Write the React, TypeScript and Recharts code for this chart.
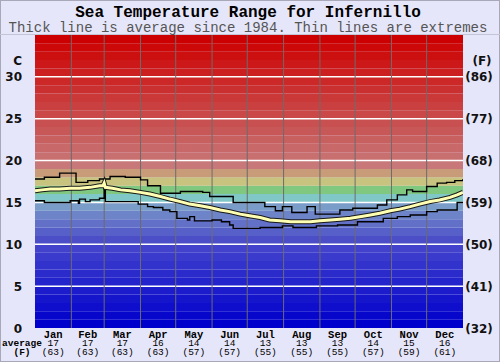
import React from 'react';
import { LineChart, Line, XAxis, YAxis, ReferenceArea, ReferenceLine } from 'recharts';

const months = ['Jan', 'Feb', 'Mar', 'Apr', 'May', 'Jun', 'Jul', 'Aug', 'Sep', 'Oct', 'Nov', 'Dec'];
const monthAvgC = [17, 17, 17, 16, 14, 14, 13, 13, 13, 14, 15, 16];
const monthAvgF = [63, 63, 63, 63, 57, 57, 55, 55, 55, 57, 59, 61];
const monthStartDays = [0, 31, 59, 90, 120, 151, 181, 212, 243, 273, 304, 334, 365];
const monthBoundaryDays = monthStartDays.slice(1, 12);
const monthMidDays = months.map((_, i) => (monthStartDays[i] + monthStartDays[i + 1]) / 2);

const yTicksC = [0, 5, 10, 15, 20, 25, 30];
const gridLinesC = [5, 10, 15, 20, 25, 30];

// average (thick line)
const avgDays = [0, 6, 13, 21, 30, 38, 47, 55, 58, 59, 60, 66, 73, 81, 90, 98, 107, 115, 124, 132, 141, 149, 158, 166, 175, 183, 192, 200, 209, 218, 226, 235, 243, 252, 260, 269, 277, 286, 294, 303, 311, 320, 328, 337, 345, 354, 360, 365];
const avgTemps = [16.4, 16.5, 16.6, 16.6, 16.7, 16.7, 16.8, 17.0, 17.0, 17.3, 16.8, 16.7, 16.5, 16.4, 16.2, 16.0, 15.7, 15.4, 15.1, 14.8, 14.6, 14.4, 14.1, 13.9, 13.6, 13.4, 13.2, 12.9, 12.8, 12.7, 12.7, 12.7, 12.8, 12.9, 13.0, 13.1, 13.3, 13.5, 13.7, 14.0, 14.2, 14.5, 14.8, 15.1, 15.3, 15.6, 15.9, 16.2];

// extremes (thin step lines)
const maxDays = [0, 8, 21, 35, 45, 55, 64, 77, 90, 96, 107, 124, 143, 149, 169, 196, 205, 211, 219, 232, 239, 260, 271, 292, 300, 309, 317, 322, 334, 343, 351, 358, 365];
const maxTemps = [17.8, 18.0, 18.5, 17.4, 17.6, 17.8, 18.1, 18.0, 17.7, 17.0, 16.1, 16.3, 16.2, 15.7, 15.0, 14.5, 14.0, 14.5, 13.8, 14.5, 13.6, 14.1, 14.3, 14.7, 15.3, 15.9, 16.5, 16.3, 16.9, 17.3, 17.4, 17.6, 17.8];
const minDays = [0, 8, 30, 37, 38, 43, 47, 55, 59, 60, 88, 96, 101, 109, 115, 121, 130, 132, 136, 151, 159, 166, 169, 192, 211, 220, 240, 258, 275, 297, 309, 320, 334, 343, 360, 365];
const minTemps = [15.2, 15.0, 15.2, 14.9, 15.4, 15.1, 15.3, 15.5, 17.2, 15.1, 14.8, 14.5, 14.4, 14.1, 13.9, 13.1, 12.9, 13.3, 12.8, 12.9, 12.7, 12.3, 11.9, 12.0, 12.2, 12.0, 12.2, 12.3, 12.7, 13.1, 13.3, 13.5, 13.9, 14.1, 15.0, 15.0];

// background colour bands, one per degree from 0 upwards
const bandColors = [
  '#0000cc', '#0707cc', '#0e0ecc', '#1515cc', '#1c1ccc', '#2424cc', '#2b2bcc', '#3232cc', '#3a3acc', '#4242cc',
  '#4c4ec8', '#5660c8', '#6270c8', '#6e84c8', '#7a9cc8', '#80c8c8', '#80c880', '#c8c480', '#c89c78', '#c87878',
  '#c87070', '#c86868', '#c86060', '#c85858', '#c85050', '#ca4848', '#ca4040', '#cb3838', '#cb3030', '#cc2828',
  '#cc2020', '#cc1818', '#cc1010', '#cc0808', '#cc0000',
];

const avgData = avgDays.map((d, i) => ({ day: d, t: avgTemps[i] }));
const maxData = maxDays.map((d, i) => ({ day: d, t: maxTemps[i] }));
const minData = minDays.map((d, i) => ({ day: d, t: minTemps[i] }));

const toF = (c: number) => Math.round((c * 9) / 5 + 32);

const LeftTick = (props: any) => {
  const { y, payload } = props;
  return (
    <text x={22} y={y} dy={4.5} textAnchor="end" fontFamily="DejaVu Sans" fontWeight="bold" fontSize={12} fill="#111">
      {payload.value}
    </text>
  );
};

const RightTick = (props: any) => {
  const { y, payload } = props;
  return (
    <text x={479} y={y} dy={4.5} textAnchor="middle" fontFamily="DejaVu Sans" fontWeight="bold" fontSize={12} fill="#111">
      ({toF(payload.value)})
    </text>
  );
};

const MonthTick = (props: any) => {
  const { x, payload } = props;
  const i = monthMidDays.indexOf(payload.value);
  if (i < 0) return null;
  return (
    <g fontFamily="Liberation Mono" fill="#000">
      <text x={x} y={337.5} textAnchor="middle" fontSize={10.5} fontWeight="bold">{months[i]}</text>
      <text x={x} y={346} textAnchor="middle" fontSize={9.5}>{monthAvgC[i]}</text>
      <text x={x} y={354.5} textAnchor="middle" fontSize={9.5}>({monthAvgF[i]})</text>
    </g>
  );
};

export default function App() {
  return (
    <div style={{ position: 'absolute', left: 0, top: 0, width: 500, height: 362, background: '#e6e6fa' }}>
      <svg width={500} height={362} style={{ position: 'absolute', left: 0, top: 0 }}>
        <rect x={0.5} y={0.5} width={499} height={361} fill="none" stroke="#a8a8b8" />
        <line x1={0} y1={34.5} x2={500} y2={34.5} stroke="#c4c4d4" />
        <text x={248} y={17} textAnchor="middle" fontFamily="Liberation Mono" fontWeight="bold" fontSize={16} fill="#000">
          Sea Temperature Range for Infernillo
        </text>
        <text x={248} y={31.5} textAnchor="middle" fontFamily="Liberation Mono" fontSize={14} fill="#555">
          Thick line is average since 1984. Thin lines are extremes
        </text>
        <text x={22} y={65} textAnchor="end" fontFamily="DejaVu Sans" fontWeight="bold" fontSize={12} fill="#111">C</text>
        <text x={482} y={65} textAnchor="middle" fontFamily="DejaVu Sans" fontWeight="bold" fontSize={12} fill="#111">(F)</text>
        <text x={22} y={346} textAnchor="middle" fontFamily="Liberation Mono" fontWeight="bold" fontSize={9.5} fill="#000">average</text>
        <text x={22} y={354.5} textAnchor="middle" fontFamily="Liberation Mono" fontWeight="bold" fontSize={9.5} fill="#000">(F)</text>
      </svg>
      <div style={{ position: 'absolute', left: 0, top: 0 }}>
        <LineChart width={500} height={362} margin={{ top: 35, right: 0, bottom: 0, left: 0 }}>
          <XAxis
            dataKey="day"
            type="number"
            domain={[0, 365]}
            ticks={monthMidDays}
            interval={0}
            tickLine={false}
            axisLine={false}
            height={34}
            tick={<MonthTick />}
            allowDataOverflow
          />
          <YAxis yAxisId="c" orientation="left" domain={[0, 35]} ticks={yTicksC} width={35} tickLine={false} axisLine={false} tick={<LeftTick />} allowDataOverflow />
          <YAxis yAxisId="f" orientation="right" domain={[0, 35]} ticks={yTicksC} width={37} tickLine={false} axisLine={false} tick={<RightTick />} allowDataOverflow />
          {bandColors.map((c, i) => (
            <ReferenceArea key={'b' + i} yAxisId="c" y1={i} y2={i + 1} fill={c} fillOpacity={1} stroke="none" ifOverflow="hidden" />
          ))}
          {gridLinesC.map((v) => (
            <ReferenceLine key={'h' + v} yAxisId="c" y={v} stroke="#ffffff" strokeWidth={1.5} />
          ))}
          {monthBoundaryDays.map((d) => (
            <ReferenceLine key={'v' + d} yAxisId="c" x={d} stroke="#6c6c6c" strokeWidth={1} />
          ))}
          <Line yAxisId="c" data={maxData} dataKey="t" type="stepAfter" stroke="#000" strokeWidth={1.4} dot={false} isAnimationActive={false} />
          <Line yAxisId="c" data={minData} dataKey="t" type="stepAfter" stroke="#000" strokeWidth={1.4} dot={false} isAnimationActive={false} />
          <Line yAxisId="c" data={avgData} dataKey="t" type="linear" stroke="#1a1a1a" strokeWidth={5} dot={false} isAnimationActive={false} />
          <Line yAxisId="c" data={avgData} dataKey="t" type="linear" stroke="#ffffb4" strokeWidth={3} dot={false} isAnimationActive={false} />
        </LineChart>
      </div>
    </div>
  );
}
